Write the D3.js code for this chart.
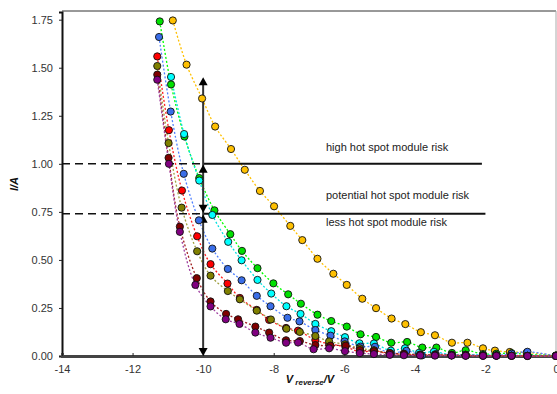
<!DOCTYPE html>
<html><head><meta charset="utf-8">
<script src="https://cdn.jsdelivr.net/npm/d3@7"></script>
<style>body{margin:0;background:#fff}svg{display:block}text{font-family:Arial,"Liberation Sans",sans-serif}</style>
</head><body><svg id="c" width="557" height="394"></svg>
<script>
const xTicks = [-14,-12,-10,-8,-6,-4,-2,0];
const yTicks = [0,0.25,0.5,0.75,1.0,1.25,1.5,1.75];
const seriesNames = ["yellow","green","cyan","blue","red","olive","darkred","purple"];
const vYellow = [-10.86,-10.47,-10.03,-9.66,-9.21,-8.82,-8.39,-7.99,-7.53,-7.19,-6.76,-6.31,-5.93,-5.49,-5.10,-4.66,-4.27,-3.83,-3.43,-2.95,-2.51,-2.07,-1.73,-1.31,-0.83,0];
const iYellow = [1.746,1.516,1.340,1.194,1.077,0.969,0.859,0.779,0.677,0.603,0.506,0.428,0.370,0.298,0.249,0.195,0.166,0.124,0.108,0.069,0.069,0.040,0.028,0.021,0.018,0.003];
const vGreen = [-11.23,-10.91,-10.53,-10.11,-9.68,-9.23,-8.90,-8.46,-8.01,-7.59,-7.23,-6.76,-6.37,-5.93,-5.54,-5.10,-4.67,-4.22,-3.79,-3.39,-2.95,-2.56,-2.07,-1.69,-1.26,-0.81,0];
const iGreen = [1.741,1.413,1.142,0.926,0.758,0.634,0.547,0.457,0.378,0.321,0.272,0.215,0.182,0.153,0.113,0.099,0.069,0.073,0.044,0.044,0.016,0.030,0.010,0.012,0.015,0.008,0.002];
const vCyan = [-10.91,-10.54,-10.11,-9.74,-9.29,-8.91,-8.46,-8.07,-7.64,-7.24,-6.82,-6.37,-5.98,-5.57,-5.16,-4.68,-4.28,-3.88,-3.46,-2.96,-2.56,-2.07,-1.69,-1.26,-0.81,0];
const iCyan = [1.452,1.155,0.913,0.734,0.594,0.498,0.396,0.325,0.259,0.219,0.167,0.129,0.098,0.066,0.065,0.028,0.040,0.017,0.022,0.005,0.006,0.005,0.004,0.003,0.003,0.002];
const vBlue = [-11.25,-10.92,-10.55,-10.12,-9.74,-9.30,-8.91,-8.48,-8.09,-7.61,-7.27,-6.82,-6.39,-5.99,-5.54,-5.13,-4.68,-4.24,-3.80,-3.41,-2.96,-2.56,-1.69,-1.26,-0.81,0];
const iBlue = [1.660,1.272,0.948,0.706,0.559,0.453,0.394,0.313,0.259,0.199,0.180,0.135,0.106,0.076,0.049,0.048,0.013,0.027,0.003,0.010,0.007,0.007,0.003,0.012,0.022,0];
const vRed = [-11.30,-10.97,-10.60,-10.17,-9.79,-9.31,-8.96,-8.48,-8.13,-7.65,-7.31,-6.82,-6.43,-5.97,-5.54,-5.16,-4.71,-4.31,-3.85,-3.43,-2.96,-2.56,-2.07,-1.69,-1.26,-0.81,0];
const iRed = [1.559,1.175,0.861,0.623,0.478,0.377,0.302,0.240,0.188,0.146,0.132,0.083,0.063,0.048,0.021,0.028,0.010,0.010,0.005,0.006,0.004,0.003,0.002,0.002,0.002,0.001,0];
const vOlive = [-11.30,-10.98,-10.61,-10.17,-9.79,-9.30,-8.96,-8.48,-8.08,-7.64,-7.26,-6.82,-6.43,-5.98,-5.56,-5.16,-4.71,-4.31,-3.85,-3.43,-2.96,-2.56,-2.07,-1.69,-1.26,-0.81,0];
const iOlive = [1.509,1.108,0.772,0.545,0.418,0.338,0.295,0.236,0.190,0.142,0.125,0.104,0.076,0.061,0.040,0.030,0.015,0.012,0.008,0.006,0.004,0.003,0.002,0.002,0.001,0.001,0];
const vDarkred = [-11.30,-10.98,-10.66,-10.18,-9.79,-9.35,-9.01,-8.52,-8.13,-7.65,-7.26,-6.82,-6.39,-5.96,-5.56,-5.16,-4.71,-4.31,-3.85,-3.43,-2.96,-2.56,-2.07,-1.69,-1.26,-0.81,0];
const iDarkred = [1.464,1.031,0.673,0.405,0.284,0.219,0.191,0.153,0.122,0.082,0.078,0.057,0.054,0.054,0.031,0.025,0.015,0.010,0.006,0.005,0.004,0.003,0.002,0.002,0.001,0.001,0];
const vPurple = [-11.30,-10.97,-10.66,-10.22,-9.79,-9.36,-8.97,-8.52,-8.09,-7.65,-7.31,-6.87,-6.43,-5.98,-5.56,-5.16,-4.71,-4.31,-3.85,-3.43,-2.96,-2.56,-2.07,-1.69,-1.26,-0.81,0];
const iPurple = [1.4375,1.00,0.646,0.370,0.258,0.191,0.167,0.122,0.095,0.069,0.070,0.035,0.040,0.025,0.015,0.010,0.006,0.004,0.003,0.002,0.002,0.001,0.001,0.001,0.001,0,0];
const riskLabels = ["high hot spot module risk","potential hot spot module risk","less hot spot module risk"];
const riskThresholds = [1.0, 0.74];
const arrowTop = 1.45;
const arrowV = -10;

const styles = {
  yellow:{fill:"#ffc000",line:"#ffc000"},
  green:{fill:"#00e000",line:"#00ff00"},
  cyan:{fill:"#00ffff",line:"#00e0e0"},
  blue:{fill:"#3a6ee8",line:"#5080ff"},
  red:{fill:"#ff0000",line:"#ff2020"},
  olive:{fill:"#808000",line:"#a0a040"},
  darkred:{fill:"#800000",line:"#a02020"},
  purple:{fill:"#800080",line:"#a040a0"}
};
const seriesData = {
  yellow:[vYellow,iYellow], green:[vGreen,iGreen], cyan:[vCyan,iCyan], blue:[vBlue,iBlue],
  red:[vRed,iRed], olive:[vOlive,iOlive], darkred:[vDarkred,iDarkred], purple:[vPurple,iPurple]
};

const svg = d3.select("#c");
const L=62,R=556,T=12,B=356;
const x = d3.scaleLinear().domain([-14,0]).range([L,R]);
const y = d3.scaleLinear().domain([0,1.79]).range([B,T]);

// frame
svg.append("line").attr("x1",L).attr("x2",R).attr("y1",T-1).attr("y2",T-1).attr("stroke","#333").attr("stroke-width",1);
svg.append("line").attr("x1",R).attr("x2",R).attr("y1",T-1).attr("y2",B).attr("stroke","#aaa").attr("stroke-width",1);

// axes
const yAxis = d3.axisLeft(y).tickValues(yTicks).tickFormat(d3.format(".2f")).tickSize(3).tickPadding(6);
const gy = svg.append("g").attr("transform",`translate(${L},0)`).call(yAxis);
gy.select(".domain").attr("stroke","#111").attr("stroke-width",2);
gy.selectAll(".tick line").attr("stroke","#222");
gy.selectAll("text").attr("font-size",11).attr("fill","#333").attr("font-family","Arial, Liberation Sans, sans-serif");
const xAxis = d3.axisBottom(x).tickValues(xTicks).tickFormat(d=>d).tickSize(-3).tickPadding(9);
const gx = svg.append("g").attr("transform",`translate(0,${B})`).call(xAxis);
gx.select(".domain").attr("stroke","#444").attr("stroke-width",3);
gx.selectAll(".tick line").attr("stroke","#222");
gx.selectAll("text").attr("font-size",11).attr("fill","#333").attr("font-family","Arial, Liberation Sans, sans-serif");

// series lines
const line = d3.line().x(d=>x(d[0])).y(d=>y(d[1])).curve(d3.curveCatmullRom.alpha(0.5));
const order = ["yellow","green","cyan","blue","red","olive","darkred","purple"];
order.forEach(n=>{
  const [v,i]=seriesData[n];
  const pts=v.map((vv,k)=>[vv,i[k]]);
  svg.append("path").datum(pts).attr("d",line).attr("fill","none")
    .attr("stroke",styles[n].line).attr("stroke-width",1.3).attr("stroke-dasharray","2,2");
});

// annotation lines
const t1=riskThresholds[0], t2=riskThresholds[1];
[t1,t2].forEach(t=>{
  svg.append("line").attr("x1",L).attr("x2",x(arrowV)).attr("y1",y(t)).attr("y2",y(t))
    .attr("stroke","#111").attr("stroke-width",1.6).attr("stroke-dasharray","8,5");
});
svg.append("line").attr("x1",x(arrowV)).attr("x2",x(-2.1)).attr("y1",y(t1)).attr("y2",y(t1)).attr("stroke","#111").attr("stroke-width",2);
svg.append("line").attr("x1",x(arrowV)).attr("x2",x(-2.0)).attr("y1",y(t2)).attr("y2",y(t2)).attr("stroke","#111").attr("stroke-width",2);
// vertical arrow line
svg.append("line").attr("x1",x(arrowV)).attr("x2",x(arrowV)).attr("y1",y(arrowTop)+5).attr("y2",B-4)
  .attr("stroke","#333").attr("stroke-width",2);
function head(yy,dir){ // dir -1 up, +1 down; yy is tip
  const cx=x(arrowV);
  svg.append("path").attr("d",`M${cx},${yy} L${cx-4.5},${yy-dir*8} L${cx+4.5},${yy-dir*8} Z`).attr("fill","#000");
}
head(y(arrowTop),-1);
head(y(t1)+1,-1);
head(y(t2)-1,1);
head(y(t2)+1,-1);
head(B,1);

// markers
order.forEach(n=>{
  const [v,i]=seriesData[n];
  svg.append("g").selectAll("circle").data(v.map((vv,k)=>[vv,i[k]])).join("circle")
    .attr("cx",d=>x(d[0])).attr("cy",d=>y(d[1])).attr("r",3.6)
    .attr("fill",styles[n].fill).attr("stroke","#111").attr("stroke-width",0.9);
});

// risk labels
const lx = 326;
[[riskLabels[0],147],[riskLabels[1],195],[riskLabels[2],222]].forEach(([t,yy])=>{
  svg.append("text").attr("x",lx).attr("y",yy).attr("dy","0.35em").attr("font-size",11).attr("fill","#222").text(t);
});

// axis titles
svg.append("text").attr("transform","translate(18,184) rotate(-90)").attr("text-anchor","middle")
  .attr("font-size",11).attr("font-weight","bold").attr("font-style","italic").attr("fill","#111").text("I/A");
const xt = svg.append("text").attr("x",310).attr("y",383).attr("text-anchor","middle")
  .attr("font-size",11).attr("font-weight","bold").attr("font-style","italic").attr("fill","#111");
xt.append("tspan").text("V");
xt.append("tspan").attr("font-size",8).attr("dy",2).text(" reverse");
xt.append("tspan").attr("dy",-2).text("/V");
</script></body></html>
